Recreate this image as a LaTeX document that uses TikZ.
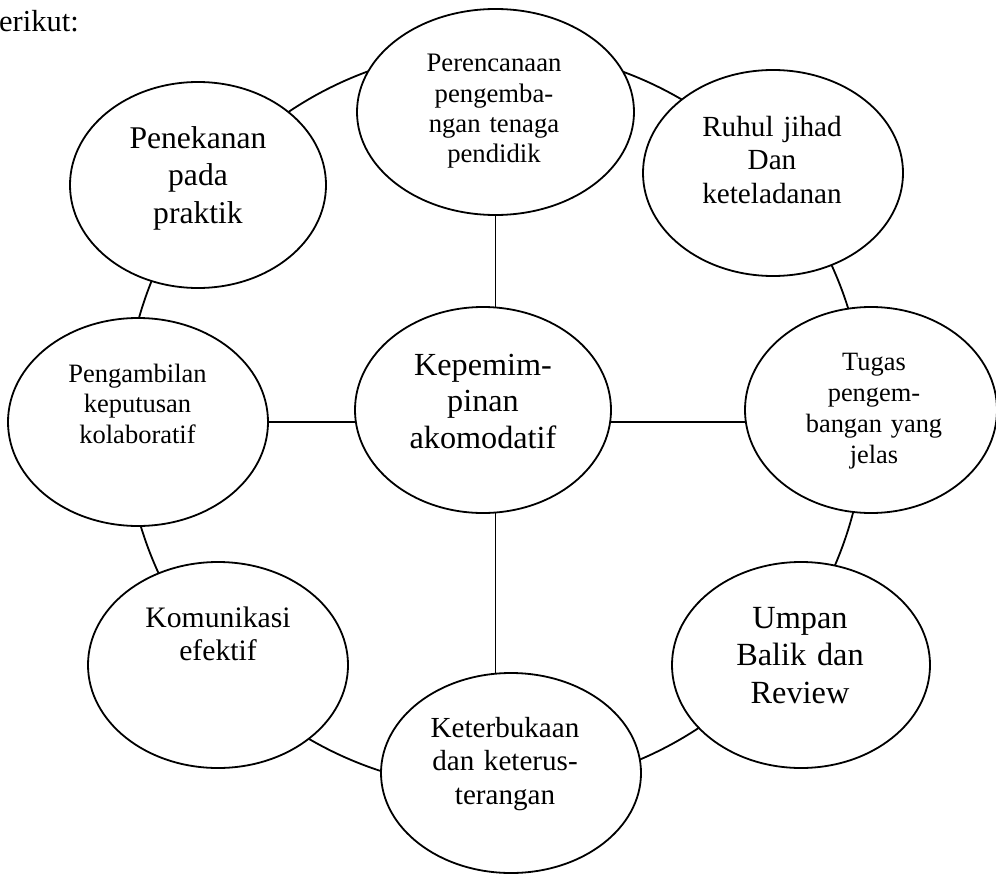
\documentclass[tikz,border=0pt]{standalone}
\usepackage{fontspec}
\setmainfont{Liberation Serif}
\usetikzlibrary{shapes.geometric}
\tikzset{
  bub/.style={draw, ellipse, line width=1.8pt, fill=white, inner sep=0pt, outer sep=0pt},
  txt/.style={anchor=base, align=center, text width=300pt, inner sep=0pt},
  link/.style={line width=1.8pt},
}
\newcommand{\fs}[2]{\fontsize{#1}{#2}\selectfont}
\begin{document}
\begin{tikzpicture}[x=1pt,y=-1pt]
\useasboundingbox (0,0) rectangle (996,875);
% header text (cut off)
\node[anchor=base west, inner sep=0pt, font=\fs{30.5}{36}] (hdr) at (-1,32) {erikut:};
% outer ring
\draw[link] (495,419) circle (370);
% bubbles
\node[bub, minimum width=277, minimum height=206] (top) at (495.5,112) {};
\node[bub, minimum width=256, minimum height=206] (pen) at (198,185) {};
\node[bub, minimum width=260, minimum height=206] (ruh) at (773,173) {};
\node[bub, minimum width=260, minimum height=208] (left) at (138,422) {};
\node[bub, minimum width=256, minimum height=206] (mid) at (483,410) {};
\node[bub, minimum width=252, minimum height=206] (right) at (871,410) {};
\node[bub, minimum width=260, minimum height=206] (kom) at (218,665) {};
\node[bub, minimum width=258, minimum height=206] (ump) at (801,665) {};
\node[bub, minimum width=260, minimum height=200] (bot) at (511,773) {};
% spokes
\draw[link] (top.south) -- (top.south |- mid.north);
\draw[link] (mid.south -| top.south) -- (bot.north -| top.south);
\draw[link] (left.east) -- (left.east -| mid.west);
\draw[link] (mid.east |- left.east) -- (right.west |- left.east);
% texts
\node[txt, font=\fs{26.7}{30.3}] (top-t) at (494,72) {Perencanaan\\pengemba-\\ngan tenaga\\pendidik};
\node[txt, font=\fs{31.6}{37.5}] (pen-t) at (198,148) {Penekanan\\pada\\praktik};
\node[txt, font=\fs{29.2}{33.5}] (ruh-t) at (772,136) {Ruhul jihad\\Dan\\keteladanan};
\node[txt, font=\fs{26.5}{30.5}] (left-t) at (137.5,382) {Pengambilan\\keputusan\\kolaboratif};
\node[txt, font=\fs{32.2}{36.5}] (mid-t) at (483,375) {Kepemim-\\pinan\\akomodatif};
\node[txt, font=\fs{26.4}{31}] (right-t) at (874,370) {Tugas\\pengem-\\bangan yang\\jelas};
\node[txt, font=\fs{29.7}{33}] (kom-t) at (218,627) {Komunikasi\\efektif};
\node[txt, font=\fs{32.3}{37.5}] (ump-t) at (800,628) {Umpan\\Balik dan\\Review};
\node[txt, font=\fs{29.1}{33.5}] (bot-t) at (505,737) {Keterbukaan\\dan keterus-\\terangan};
\end{tikzpicture}
\end{document}
